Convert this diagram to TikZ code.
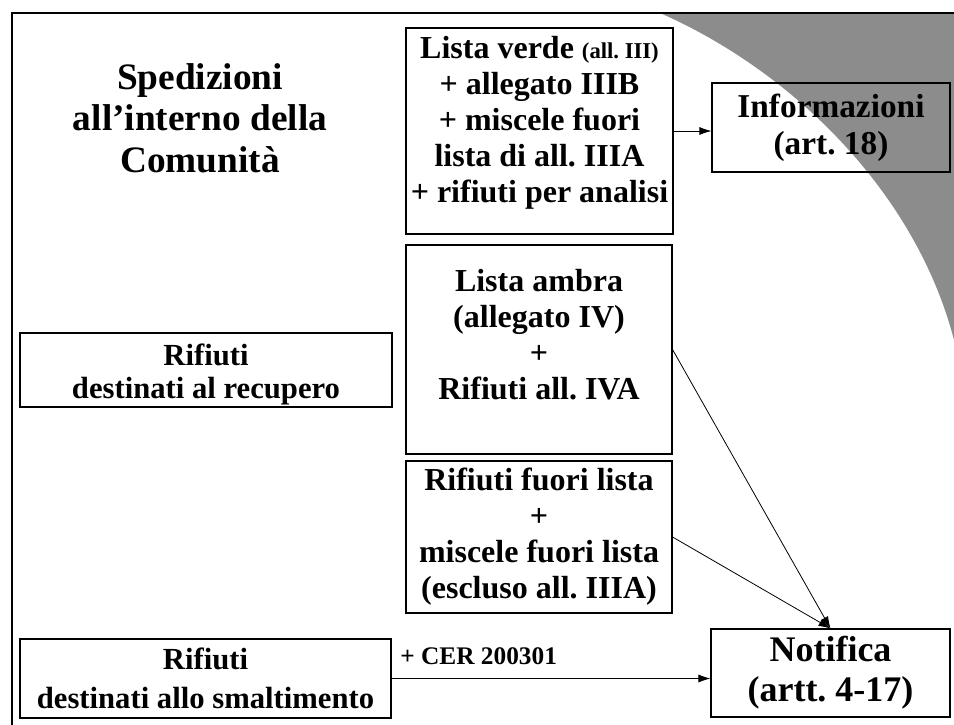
\documentclass[tikz,border=0pt]{standalone}
\usepackage{fontspec}
\setmainfont{Liberation Serif}
\usetikzlibrary{arrows.meta}
\frenchspacing

\begin{document}
\begin{tikzpicture}[x=0.75pt, y=-0.75pt,
  box/.style={draw, line width=0.8pt, align=center, inner sep=1pt,
    font=\fontsize{24}{27}\selectfont\bfseries},
  link/.style={line width=0.6pt, -{Latex[length=9pt,width=6pt]}}]

\useasboundingbox (0,0) rectangle (954,725);

% page curl and frame
\fill[black!45] (660,13) .. controls (790,70) and (915,190) .. (954,340) -- (954,13) -- cycle;
\draw[line width=1.5pt] (12,725) -- (12,13) -- (954,13);

\node[align=center, font=\fontsize{28}{31}\selectfont\bfseries] (title) at (200,118) {Spedizioni\\all'interno della\\Comunità};

\node[box, minimum width=200.25pt, minimum height=154.5pt, text depth=17pt] (verde) at (539.5,131) {Lista verde {\fontsize{17}{20}\selectfont(all. III)}\\+ allegato IIIB\\+ miscele fuori\\lista di all. IIIA\\+ rifiuti per analisi};
\node[box, minimum width=178.5pt, minimum height=66.75pt, font=\fontsize{25}{28}\selectfont\bfseries] (info) at (831,127.5) {Informazioni\\(art. 18)};
\node[box, minimum width=199.5pt, minimum height=156.75pt, text depth=22pt] (ambra) at (539,349.5) {Lista ambra\\(allegato IV)\\+\\Rifiuti all. IVA};
\node[box, minimum width=199.5pt, minimum height=114pt] (fuori) at (539,537) {Rifiuti fuori lista\\+\\miscele fuori lista\\(escluso all. IIIA)};
\node[box, minimum width=279pt, minimum height=55.5pt, text height=48pt, font=\fontsize{23}{25}\selectfont\bfseries] (recupero) at (206,370) {Rifiuti\\destinati al recupero};
\node[box, minimum width=278.25pt, minimum height=59.25pt, font=\fontsize{23}{29}\selectfont\bfseries] (smalt) at (205.5,678.5) {Rifiuti\\destinati allo smaltimento};
\node[box, minimum width=179.25pt, minimum height=66pt, font=\fontsize{27}{30}\selectfont\bfseries] (notifica) at (830.5,673) {Notifica\\(artt. 4-17)};

\draw[link] (verde.east) -- (verde.east -| info.west);
\draw[link] (ambra.east) -- (notifica.north);
\draw[link] (fuori.east) -- (notifica.north);
\draw[link] (smalt.east) -- (smalt.east -| notifica.west)
  node[pos=0, anchor=south west, xshift=3pt, yshift=7pt, font=\fontsize{19}{21}\selectfont\bfseries] (cer) {+ CER 200301};

\end{tikzpicture}
\end{document}
